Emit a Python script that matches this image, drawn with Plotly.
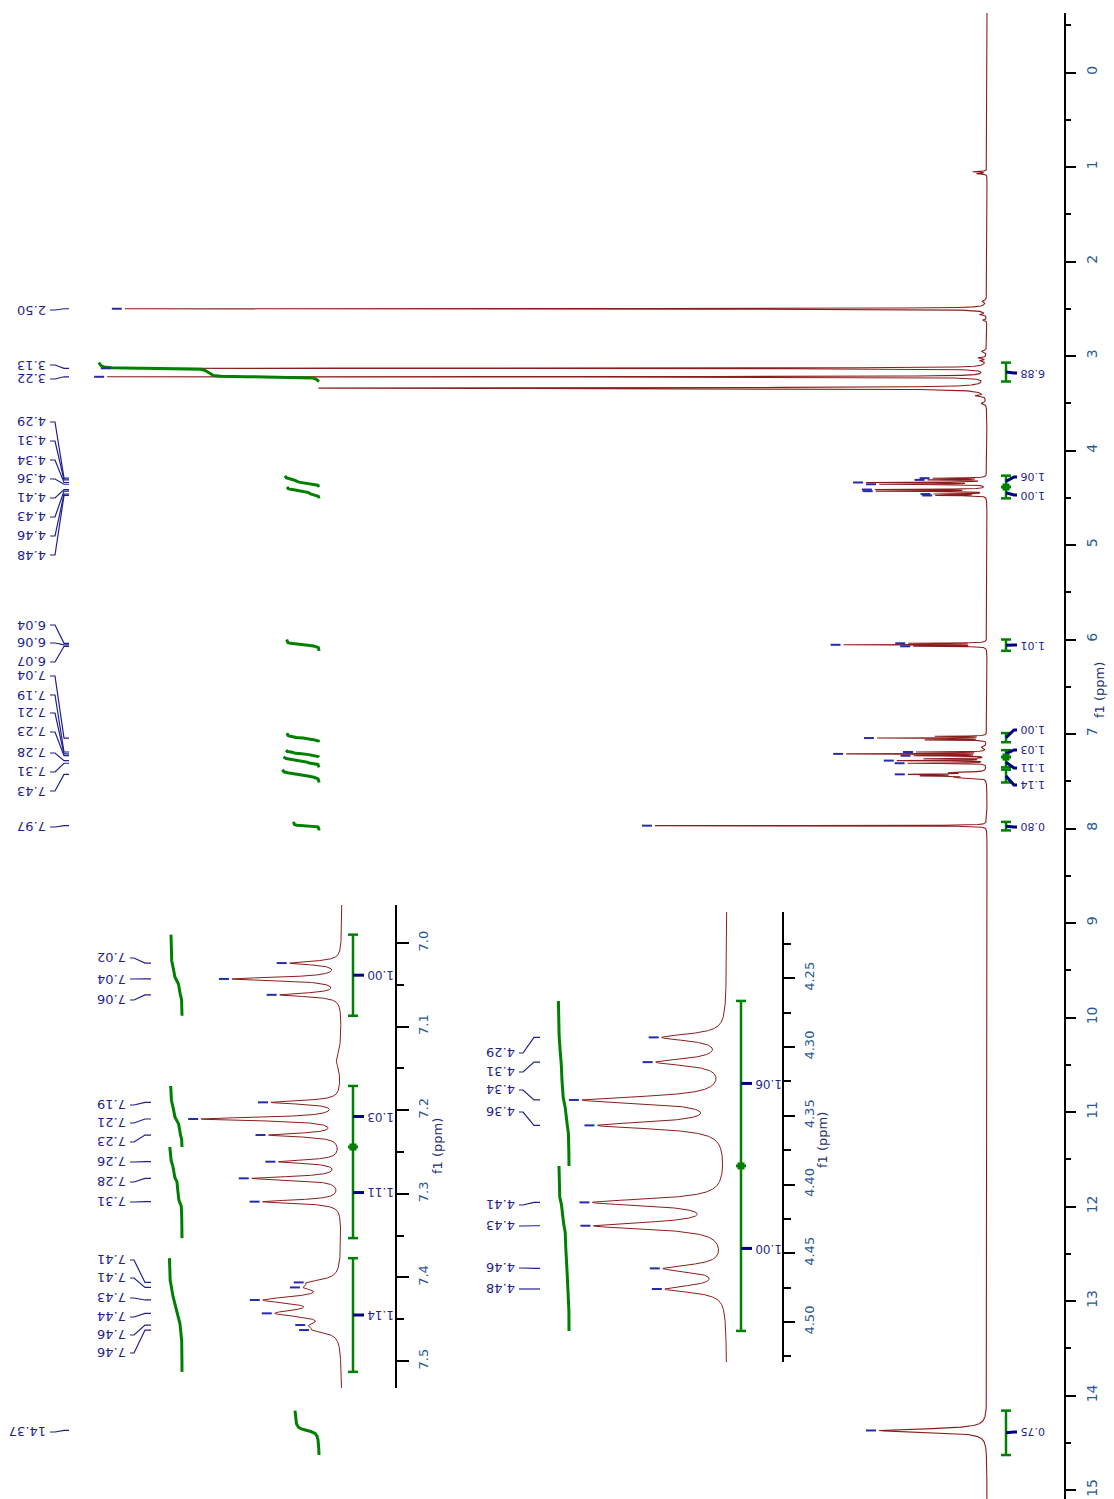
import numpy as np
import plotly.graph_objects as go

W, H = 1114, 1499

# ---------------- data ----------------
peak_ppm = [1.05, 1.07, 2.42, 2.50, 2.56, 2.62, 2.95, 3.02, 3.05, 3.13, 3.22, 3.34, 3.42, 3.50,
            4.293, 4.311, 4.3385, 4.357, 4.413, 4.430, 4.461, 4.476,
            6.040, 6.056, 6.072,
            7.024, 7.043, 7.062, 7.14, 7.1906, 7.2105, 7.2297, 7.2616, 7.2815, 7.3094,
            7.406, 7.412, 7.427, 7.443, 7.457, 7.463,
            7.97, 14.37]
peak_height = [14, 10, 4, 862, 6, 4, 5, 8, 6, 872, 878, 668, 9, 5,
               52, 56, 117, 104, 108, 107, 50, 49,
               75, 140, 70,
               50, 108, 60, 5, 68, 138, 70, 61, 88, 78,
               23, 23, 71, 58, 19, 19,
               332, 108]
peak_hw = [0.004, 0.004, 0.01, 0.0025, 0.005, 0.005, 0.01, 0.006, 0.006, 0.0025, 0.0025, 0.005, 0.006, 0.01,
           0.003, 0.003, 0.003, 0.003, 0.003, 0.003, 0.003, 0.003,
           0.0025, 0.0025, 0.0025,
           0.0025, 0.0025, 0.0025, 0.012, 0.0025, 0.0025, 0.0025, 0.0025, 0.0025, 0.0025,
           0.004, 0.004, 0.005, 0.005, 0.004, 0.004,
           0.002, 0.02]

main_label_ppm = [2.50, 3.13, 3.22, 4.293, 4.311, 4.3385, 4.357, 4.413, 4.430, 4.461, 4.476,
                  6.040, 6.056, 6.072, 7.043, 7.1906, 7.2105, 7.2297, 7.2815, 7.3094, 7.427, 7.97, 14.37]
inset1_label_ppm = [7.024, 7.043, 7.062, 7.1906, 7.2105, 7.2297, 7.2616, 7.2815, 7.3094,
                    7.406, 7.412, 7.427, 7.443, 7.457, 7.463]
inset2_label_ppm = [4.293, 4.311, 4.3385, 4.357, 4.413, 4.430, 4.461, 4.476]

int_main_lo = [3.07, 4.2665, 4.3865, 6.00, 6.99, 7.171, 7.244, 7.377, 7.93, 14.16]
int_main_hi = [3.27, 4.3865, 4.5065, 6.12, 7.087, 7.244, 7.353, 7.513, 8.02, 14.63]
int_main_val = [6.88, 1.06, 1.00, 1.01, 1.00, 1.03, 1.11, 1.14, 0.80, 0.75]
int_in1_lo = [6.990, 7.171, 7.244, 7.377]
int_in1_hi = [7.087, 7.244, 7.353, 7.513]
int_in1_val = [1.00, 1.03, 1.11, 1.14]
int_in2_lo = [4.2665, 4.3865]
int_in2_hi = [4.3865, 4.5065]
int_in2_val = [1.06, 1.00]

# ---------------- layout geometry (pixels) ----------------
main_label_py = [310, 365, 379, 422, 441, 460, 479, 498, 517, 536, 555,
                 625, 643, 662, 676, 695, 713, 732, 753, 772, 791, 827, 1432]
in1_label_py = [958, 979, 1000, 1105, 1123, 1142, 1162, 1182, 1202, 1260, 1278, 1298, 1317, 1335, 1353]
in2_label_py = [1053, 1072, 1090, 1112, 1205, 1226, 1268, 1289]
main_int_label_py = [373, 477, 495, 645, 730, 750, 768, 785, 827, 1432]

PANELS = {
    'main': dict(ax='', ppm0=0.0, py0=72.5, s=94.5, top=13, bottom=1499, left=0, right=1064,
                 base=987, isc=1.0),
    'in1': dict(ax='2', ppm0=7.0, py0=943, s=836, top=905, bottom=1388, left=150, right=395,
                base=342, isc=1.0),
    'in2': dict(ax='3', ppm0=4.30, py0=1047, s=1375, top=912, bottom=1362, left=470, right=782,
                base=727, isc=1.2),
}

SPEC_COLOR = '#8b1c1c'
GREEN = '#008000'
NAVY = '#1f1f8f'
TICKTXT = '#2d5a94'
FONT = 'DejaVu Sans'


def ppm_at(P, py):
    return P['ppm0'] + (py - P['py0']) / P['s']


def py_at(P, ppm):
    return P['py0'] + (ppm - P['ppm0']) * P['s']


def I_at(P, px):
    return (P['base'] - px) / P['isc']


def xp(px):
    return px / W


def yp(py):
    return 1 - py / H


pk = np.array(peak_ppm)
ph = np.array(peak_height, dtype=float)
pw = np.array(peak_hw)


def spectrum(x):
    x = np.asarray(x, dtype=float)[:, None]
    return (ph * pw ** 2 / (pw ** 2 + (x - pk) ** 2)).sum(axis=1)


def grid_for(P, step):
    lo, hi = ppm_at(P, P['top']), ppm_at(P, P['bottom'])
    parts = [np.arange(lo, hi, step), np.array([hi])]
    for p, w in zip(peak_ppm, peak_hw):
        parts.append(np.arange(p - 12 * w, p + 12 * w, w / 12))
    g = np.unique(np.concatenate(parts))
    return g[(g >= lo) & (g <= hi)]


fig = go.Figure()
shapes = []
annotations = []


def axn(P, kind):
    return kind + P['ax']


for key, step in (('main', 0.002), ('in1', 0.0002), ('in2', 0.0002)):
    P = PANELS[key]
    g = grid_for(P, step)
    fig.add_trace(go.Scatter(x=spectrum(g), y=g, mode='lines',
                             line=dict(color=SPEC_COLOR, width=1.1 if key == 'main' else 1.0),
                             xaxis=axn(P, 'x'), yaxis=axn(P, 'y'), hoverinfo='skip', showlegend=False))


def integrals(P, los, his, vals, base_px, rise, bx, label_pys, label_size):
    for a, b, v in zip(los, his, vals):
        xs = np.linspace(a, b, 500)
        ys = spectrum(xs)
        cum = np.concatenate([[0], np.cumsum((ys[1:] + ys[:-1]) / 2 * np.diff(xs))])
        F = (cum[-1] - cum) / cum[-1]
        pxs = base_px - rise * v * F
        fig.add_trace(go.Scatter(x=I_at(P, pxs), y=xs, mode='lines', line=dict(color=GREEN, width=3),
                                 xaxis=axn(P, 'x'), yaxis=axn(P, 'y'), hoverinfo='skip', showlegend=False))
    for a, b, v, lpy in zip(los, his, vals, label_pys):
        ya, yb = py_at(P, a), py_at(P, b)
        shapes.append(dict(type='line', xref='paper', yref='paper', x0=xp(bx), x1=xp(bx), y0=yp(ya), y1=yp(yb),
                           line=dict(color=GREEN, width=2.5)))
        for yy in (ya, yb):
            shapes.append(dict(type='line', xref='paper', yref='paper', x0=xp(bx - 5), x1=xp(bx + 5),
                               y0=yp(yy), y1=yp(yy), line=dict(color=GREEN, width=2.5)))
        yc = (ya + yb) / 2
        if lpy is None:
            lpy = yc
        shapes.append(dict(type='path', xref='paper', yref='paper',
                           path=f'M {xp(bx)},{yp(yc)} L {xp(bx + 8)},{yp(lpy)} L {xp(bx + 11)},{yp(lpy)}',
                           line=dict(color='#000080', width=3)))
        annotations.append(dict(x=xp(bx + 12), y=yp(lpy), xref='paper', yref='paper', text=f'{v:.2f}',
                                showarrow=False, xanchor='left', yanchor='middle', textangle=180,
                                font=dict(family=FONT, size=label_size, color=NAVY)))
    for i in range(len(los) - 1):
        if abs(his[i] - los[i + 1]) < 1e-6:
            yy = py_at(P, his[i])
            shapes.append(dict(type='rect', xref='paper', yref='paper', x0=xp(bx - 3.5), x1=xp(bx + 3.5),
                               y0=yp(yy - 3.5), y1=yp(yy + 3.5), fillcolor=GREEN, line=dict(width=0)))


integrals(PANELS['main'], int_main_lo, int_main_hi, int_main_val, 319, 32, 1006, main_int_label_py, 11)
integrals(PANELS['in1'], int_in1_lo, int_in1_hi, int_in1_val, 182, 11, 353, [None] * 4, 12)
integrals(PANELS['in2'], int_in2_lo, int_in2_hi, int_in2_val, 569, 10, 741, [None] * 2, 12)


def peak_labels(P, ppms, label_pys, right_px, conn, size):
    mx, my = [], []
    for p, lpy in zip(ppms, label_pys):
        tip = spectrum([p])[0]
        tip_px = P['base'] - tip * P['isc']
        mx += [I_at(P, tip_px - 3), I_at(P, tip_px - 13), None]
        my += [p, p, None]
        ppy = py_at(P, p)
        c0, c1, c2, c3 = conn
        shapes.append(dict(type='path', xref='paper', yref='paper',
                           path=(f'M {xp(c0)},{yp(lpy)} L {xp(c1)},{yp(lpy)} '
                                 f'L {xp(c2)},{yp(ppy)} L {xp(c3)},{yp(ppy)}'),
                           line=dict(color=NAVY, width=1.2)))
        annotations.append(dict(x=xp(right_px), y=yp(lpy), xref='paper', yref='paper', text=f'{p:.2f}',
                                showarrow=False, xanchor='right', yanchor='middle', textangle=180,
                                font=dict(family=FONT, size=size, color=NAVY)))
    fig.add_trace(go.Scatter(x=mx, y=my, mode='lines', line=dict(color='#2a2aa8', width=2),
                             xaxis=axn(P, 'x'), yaxis=axn(P, 'y'), hoverinfo='skip', showlegend=False))


peak_labels(PANELS['main'], main_label_ppm, main_label_py, 48, (50, 55, 64, 69), 13)
peak_labels(PANELS['in1'], inset1_label_ppm, in1_label_py, 128, (130, 134, 145, 151), 13)
peak_labels(PANELS['in2'], inset2_label_ppm, in2_label_py, 517, (519, 523, 534, 540), 13)


def axes(P, tick0, dtick, minor, fmt, tlen, mlen, fsize):
    xa = dict(domain=[P['left'] / W, P['right'] / W], range=[I_at(P, P['left']), I_at(P, P['right'])],
              visible=False, anchor='y' + P['ax'], fixedrange=True)
    ya = dict(domain=[1 - P['bottom'] / H, 1 - P['top'] / H],
              range=[ppm_at(P, P['bottom']), ppm_at(P, P['top'])],
              side='right', anchor='x' + P['ax'], showline=True, linecolor='black', linewidth=1.5,
              ticks='outside', ticklen=tlen, tickwidth=1.5, tickcolor='black',
              tickmode='linear', tick0=tick0, dtick=dtick, tickformat=fmt, tickangle=-90,
              ticklabelstandoff=4,
              tickfont=dict(family=FONT, size=fsize, color=TICKTXT),
              minor=dict(tick0=tick0, dtick=minor, ticks='outside', ticklen=mlen, tickwidth=1.5,
                         tickcolor='black', showgrid=False),
              showgrid=False, zeroline=False, fixedrange=True)
    return xa, ya


xa1, ya1 = axes(PANELS['main'], 0, 1, 0.5, 'd', 10, 5, 14)
xa2, ya2 = axes(PANELS['in1'], 7.0, 0.1, 0.05, '.1f', 12, 7, 13)
xa3, ya3 = axes(PANELS['in2'], 4.25, 0.05, 0.025, '.2f', 11, 7, 13)

for (x, y, txt) in ((1100, 690, 'f1 (ppm)'), (437, 1146, 'f1 (ppm)'), (822, 1140, 'f1 (ppm)')):
    annotations.append(dict(x=xp(x), y=yp(y), xref='paper', yref='paper', text=txt, showarrow=False,
                            xanchor='center', yanchor='middle', textangle=-90,
                            font=dict(family=FONT, size=13, color='#23306e')))

fig.update_layout(width=W, height=H, autosize=False, margin=dict(l=0, r=0, t=0, b=0),
                  paper_bgcolor='white', plot_bgcolor='rgba(0,0,0,0)',
                  xaxis=xa1, yaxis=ya1, xaxis2=xa2, yaxis2=ya2, xaxis3=xa3, yaxis3=ya3,
                  shapes=shapes, annotations=annotations, showlegend=False)

fig.write_html('out.html', config={'displayModeBar': False},
               post_script="document.body.style.margin='0px';document.body.style.padding='0px';"
                           "document.documentElement.style.overflow='hidden';")
